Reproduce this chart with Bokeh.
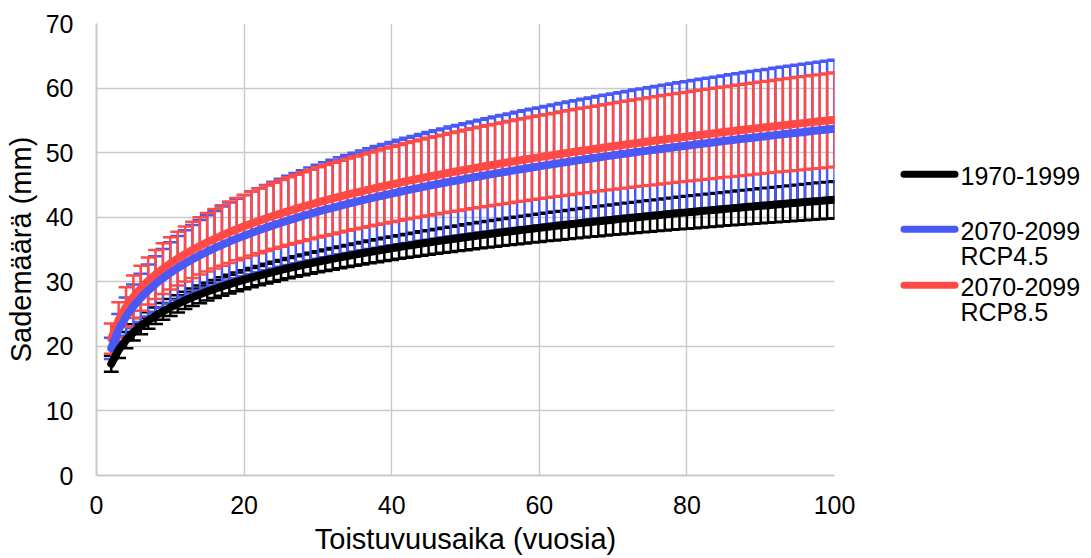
from bokeh.plotting import figure
from bokeh.models import Range1d, FixedTicker, ColumnDataSource
from bokeh.layouts import row
from bokeh.embed import file_html
from bokeh.resources import INLINE
from bokeh.core.properties import value

# ---------------- data ----------------
RETURN_PERIOD = list(range(2, 101))

PRECIP_1970_1999 = [
    17.30, 19.46, 20.97, 22.15, 23.14, 23.99, 24.74, 25.41, 26.03,
    26.59, 27.11, 27.60, 28.05, 28.48, 28.89, 29.27, 29.64, 29.99, 30.33,
    30.65, 30.96, 31.26, 31.55, 31.83, 32.10, 32.36, 32.61, 32.86, 33.10,
    33.33, 33.56, 33.78, 34.00, 34.21, 34.42, 34.62, 34.81, 35.01, 35.20,
    35.38, 35.56, 35.74, 35.92, 36.09, 36.26, 36.42, 36.58, 36.75, 36.90,
    37.06, 37.21, 37.36, 37.51, 37.66, 37.80, 37.94, 38.08, 38.22, 38.35,
    38.49, 38.62, 38.75, 38.88, 39.01, 39.13, 39.26, 39.38, 39.50, 39.62,
    39.74, 39.85, 39.97, 40.08, 40.20, 40.31, 40.42, 40.53, 40.64, 40.75,
    40.85, 40.96, 41.06, 41.17, 41.27, 41.37, 41.47, 41.57, 41.67, 41.77,
    41.86, 41.96, 42.05, 42.15, 42.24, 42.34, 42.43, 42.52, 42.61, 42.70]
ERR_1970_1999 = [
    1.25, 1.25, 1.25, 1.26, 1.27, 1.28, 1.29, 1.30, 1.32,
    1.33, 1.34, 1.36, 1.37, 1.39, 1.40, 1.42, 1.44, 1.45, 1.47,
    1.49, 1.50, 1.52, 1.54, 1.55, 1.57, 1.59, 1.61, 1.62, 1.64,
    1.66, 1.68, 1.69, 1.71, 1.73, 1.75, 1.76, 1.78, 1.80, 1.82,
    1.83, 1.85, 1.87, 1.89, 1.91, 1.92, 1.94, 1.96, 1.98, 2.00,
    2.01, 2.03, 2.05, 2.07, 2.08, 2.10, 2.12, 2.14, 2.15, 2.17,
    2.19, 2.21, 2.23, 2.24, 2.26, 2.28, 2.30, 2.31, 2.33, 2.35,
    2.37, 2.38, 2.40, 2.42, 2.44, 2.45, 2.47, 2.49, 2.51, 2.52,
    2.54, 2.56, 2.58, 2.59, 2.61, 2.63, 2.65, 2.66, 2.68, 2.70,
    2.72, 2.73, 2.75, 2.77, 2.78, 2.80, 2.82, 2.84, 2.85, 2.87]

PRECIP_RCP45 = [
    19.70, 22.59, 24.60, 26.20, 27.51, 28.66, 29.66, 30.56, 31.38,
    32.14, 32.83, 33.48, 34.09, 34.66, 35.21, 35.73, 36.22, 36.69, 37.14,
    37.57, 37.98, 38.39, 38.78, 39.15, 39.51, 39.86, 40.20, 40.53, 40.85,
    41.16, 41.46, 41.77, 42.06, 42.34, 42.61, 42.88, 43.15, 43.40, 43.65,
    43.90, 44.15, 44.38, 44.62, 44.85, 45.08, 45.30, 45.52, 45.73, 45.94,
    46.15, 46.35, 46.55, 46.75, 46.95, 47.14, 47.33, 47.51, 47.70, 47.88,
    48.06, 48.23, 48.42, 48.59, 48.76, 48.93, 49.09, 49.26, 49.42, 49.58,
    49.74, 49.89, 50.05, 50.20, 50.35, 50.50, 50.65, 50.80, 50.94, 51.08,
    51.23, 51.37, 51.50, 51.64, 51.79, 51.92, 52.06, 52.19, 52.32, 52.45,
    52.58, 52.71, 52.84, 52.96, 53.09, 53.21, 53.34, 53.46, 53.58, 53.70]
ERR_RCP45 = [
    1.65, 2.42, 2.95, 3.38, 3.73, 4.03, 4.29, 4.53, 4.75,
    4.95, 5.14, 5.31, 5.47, 5.63, 5.77, 5.91, 6.04, 6.16, 6.28,
    6.40, 6.51, 6.61, 6.72, 6.82, 6.91, 7.00, 7.09, 7.18, 7.27,
    7.35, 7.43, 7.51, 7.59, 7.66, 7.74, 7.81, 7.88, 7.95, 8.01,
    8.08, 8.14, 8.21, 8.27, 8.33, 8.39, 8.45, 8.51, 8.56, 8.62,
    8.67, 8.73, 8.78, 8.83, 8.89, 8.94, 8.99, 9.04, 9.09, 9.13,
    9.18, 9.23, 9.28, 9.32, 9.37, 9.41, 9.46, 9.50, 9.54, 9.58,
    9.63, 9.67, 9.71, 9.75, 9.79, 9.83, 9.87, 9.91, 9.95, 9.99,
    10.02, 10.06, 10.10, 10.13, 10.17, 10.21, 10.24, 10.28, 10.31, 10.35,
    10.38, 10.42, 10.45, 10.48, 10.52, 10.55, 10.58, 10.62, 10.65, 10.68]

PRECIP_RCP85 = [
    21.20, 24.08, 26.09, 27.68, 28.99, 30.13, 31.13, 32.03, 32.85,
    33.60, 34.29, 34.94, 35.55, 36.12, 36.66, 37.18, 37.67, 38.14, 38.59,
    39.02, 39.43, 39.83, 40.22, 40.59, 40.95, 41.30, 41.64, 41.97, 42.29,
    42.60, 42.90, 43.20, 43.49, 43.77, 44.04, 44.31, 44.58, 44.83, 45.08,
    45.33, 45.58, 45.81, 46.05, 46.28, 46.50, 46.72, 46.94, 47.15, 47.36,
    47.57, 47.77, 47.97, 48.17, 48.37, 48.56, 48.75, 48.93, 49.12, 49.30,
    49.48, 49.65, 49.83, 50.00, 50.17, 50.34, 50.50, 50.67, 50.83, 50.99,
    51.15, 51.30, 51.46, 51.61, 51.76, 51.91, 52.06, 52.21, 52.35, 52.49,
    52.64, 52.78, 52.91, 53.05, 53.19, 53.32, 53.46, 53.59, 53.72, 53.85,
    53.98, 54.11, 54.24, 54.36, 54.49, 54.61, 54.74, 54.86, 54.98, 55.10]
ERR_RCP85 = [
    2.35, 2.77, 3.06, 3.29, 3.49, 3.65, 3.80, 3.93, 4.05,
    4.16, 4.26, 4.35, 4.44, 4.53, 4.61, 4.68, 4.75, 4.82, 4.89,
    4.95, 5.01, 5.07, 5.12, 5.18, 5.23, 5.28, 5.33, 5.38, 5.43,
    5.47, 5.52, 5.56, 5.60, 5.64, 5.68, 5.72, 5.76, 5.80, 5.83,
    5.87, 5.91, 5.94, 5.97, 6.01, 6.04, 6.07, 6.10, 6.14, 6.17,
    6.20, 6.23, 6.26, 6.28, 6.31, 6.34, 6.37, 6.40, 6.42, 6.45,
    6.47, 6.50, 6.53, 6.55, 6.58, 6.60, 6.62, 6.65, 6.67, 6.70,
    6.72, 6.74, 6.76, 6.79, 6.81, 6.83, 6.85, 6.87, 6.89, 6.92,
    6.94, 6.96, 6.98, 7.00, 7.02, 7.04, 7.06, 7.08, 7.09, 7.11,
    7.13, 7.15, 7.17, 7.19, 7.21, 7.22, 7.24, 7.26, 7.28, 7.30]

X_TICKS = [0, 20, 40, 60, 80, 100]
Y_TICKS = [0, 10, 20, 30, 40, 50, 60, 70]
LEGEND_LINES = [["1970-1999"], ["2070-2099", "RCP4.5"], ["2070-2099", "RCP8.5"]]
X_TITLE = "Toistuvuusaika (vuosia)"
Y_TITLE = "Sademäärä (mm)"

# ---------------- styles ----------------
FONT = "Liberation Sans"
BLACK = "#000000"
BLUE = "#4A58F6"
RED = "#FF4A45"
GRID = "#C9C9C9"
CAP_HALF = 1.0      # half width of error-bar caps, in x data units
ERR_W = 2.5
LINE_W = 8

MAIN_W, H = 870, 558
p = figure(width=MAIN_W, height=H, x_range=Range1d(0, 100), y_range=Range1d(0, 70),
           output_backend="svg", toolbar_location=None, title=None,
           min_border_left=96, min_border_right=MAIN_W - 834,
           min_border_top=23, min_border_bottom=83)
p.outline_line_color = None
p.background_fill_color = "white"
p.border_fill_color = "white"

p.xaxis.ticker = FixedTicker(ticks=X_TICKS)
p.yaxis.ticker = FixedTicker(ticks=Y_TICKS)
for g in (p.xgrid[0], p.ygrid[0]):
    g.grid_line_color = GRID
    g.grid_line_width = 1.4
    g.level = "image"

for ax in (p.xaxis[0], p.yaxis[0]):
    ax.major_tick_line_color = None
    ax.minor_tick_line_color = None
    ax.major_tick_out = 0
    ax.major_tick_in = 0
    ax.axis_line_color = GRID
    ax.axis_line_width = 2
    ax.major_label_text_font = FONT
    ax.major_label_text_font_size = "25px"
    ax.major_label_text_color = "black"
    ax.axis_label_text_font = FONT
    ax.axis_label_text_font_size = "29px"
    ax.axis_label_text_font_style = "normal"
    ax.axis_label_text_color = "black"

p.yaxis.axis_label = Y_TITLE
p.xaxis.axis_label = X_TITLE
p.yaxis.major_label_standoff = 23
p.yaxis.axis_label_standoff = 6
p.xaxis.major_label_standoff = 20
p.xaxis.axis_label_standoff = 6


def err_source(center, err):
    return ColumnDataSource(dict(
        t=RETURN_PERIOD,
        lo=[c - e for c, e in zip(center, err)],
        hi=[c + e for c, e in zip(center, err)],
        cl=[t - CAP_HALF for t in RETURN_PERIOD],
        cr=[t + CAP_HALF for t in RETURN_PERIOD],
    ))


series = [
    (PRECIP_1970_1999, ERR_1970_1999, BLACK),
    (PRECIP_RCP45, ERR_RCP45, BLUE),
    (PRECIP_RCP85, ERR_RCP85, RED),
]

# error bars (drawn below the lines)
for center, err, color in series:
    src = err_source(center, err)
    p.segment(x0="t", y0="lo", x1="t", y1="hi", source=src,
              line_color=color, line_width=ERR_W)
    p.segment(x0="cl", y0="hi", x1="cr", y1="hi", source=src,
              line_color=color, line_width=ERR_W)
    p.segment(x0="cl", y0="lo", x1="cr", y1="lo", source=src,
              line_color=color, line_width=ERR_W)

# thick series lines
for center, err, color in reversed(series):
    p.line(RETURN_PERIOD, center, line_color=color, line_width=LINE_W,
           line_cap="round", line_join="round")

# ---------------- legend panel ----------------
LEG_W = 1091 - MAIN_W
leg = figure(width=LEG_W, height=H, x_range=Range1d(MAIN_W, 1091), y_range=Range1d(H, 0),
             output_backend="svg", toolbar_location=None, title=None,
             x_axis_location=None, y_axis_location=None,
             min_border=0, min_border_left=0, min_border_right=0,
             min_border_top=0, min_border_bottom=0)
leg.outline_line_color = None
leg.xgrid.visible = False
leg.ygrid.visible = False
leg.background_fill_color = "white"
leg.border_fill_color = "white"

swatch_y = [186, 254, 323]
line_gap = 31
for (center, err, color), lines, sy in zip(series, LEGEND_LINES, swatch_y):
    leg.line([903.5, 954.5], [sy, sy], line_color=color, line_width=7, line_cap="round")
    leg.text(x=[960] * len(lines), y=[sy + 2 + i * line_gap for i in range(len(lines))],
             text=lines, text_font=value(FONT), text_font_size="25px",
             text_color="black", text_baseline="middle", text_align="left")

layout = row(p, leg, spacing=0)
open("out.html", "w").write(file_html(layout, INLINE))
